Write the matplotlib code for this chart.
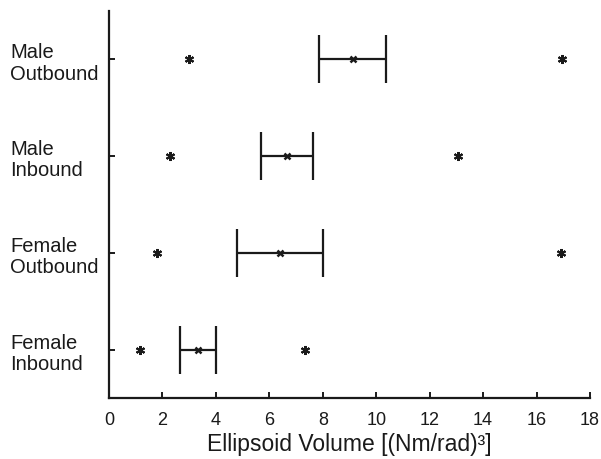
import numpy as np
import matplotlib
matplotlib.use("Agg")
import matplotlib.pyplot as plt

plt.rcParams['font.family'] = ['Liberation Sans', 'DejaVu Sans']

# groups from bottom to top
groups = ["Female\nInbound", "Female\nOutbound", "Male\nInbound", "Male\nOutbound"]
low = [2.66, 4.80, 5.69, 7.86]
mean = [3.33, 6.40, 6.66, 9.13]
high = [4.00, 8.00, 7.63, 10.37]
minimum = [1.16, 1.80, 2.28, 3.00]
maximum = [7.33, 16.90, 13.06, 16.95]
xticks = [0, 2, 4, 6, 8, 10, 12, 14, 16, 18]

fig = plt.figure(figsize=(6.01, 4.6), dpi=100)
ax = fig.add_axes([0.1814, 0.1326, 0.8003, 0.8413])

y = np.arange(1, len(groups) + 1)
mean = np.array(mean)
err = [mean - np.array(low), np.array(high) - mean]

ax.errorbar(mean, y, xerr=err, fmt='none', ecolor='#1a1a1a', elinewidth=1.6,
            capsize=17, capthick=1.6)
ax.plot(mean, y, linestyle='none', marker='x', markersize=4.5,
        markeredgewidth=1.8, color='#1a1a1a')
ax.plot(minimum, y, linestyle='none', marker=(6, 2, 0), markersize=6.5,
        markeredgewidth=1.5, color='#1a1a1a')
ax.plot(maximum, y, linestyle='none', marker=(6, 2, 0), markersize=6.5,
        markeredgewidth=1.5, color='#1a1a1a')

ax.set_xlim(0, 18)
ax.set_ylim(0.5, 4.5)
ax.set_xticks(xticks)
ax.set_yticks(y)
ax.set_yticklabels(groups, ha='left', fontsize=14.5, linespacing=1.15,
                   color='#1a1a1a')

for s in ['top', 'right']:
    ax.spines[s].set_visible(False)
for s in ['left', 'bottom']:
    ax.spines[s].set_linewidth(1.6)
    ax.spines[s].set_color('#1a1a1a')

ax.tick_params(axis='x', direction='in', length=4, width=1.4, labelsize=13, pad=9,
               color='#1a1a1a', labelcolor='#1a1a1a')
ax.tick_params(axis='y', direction='in', length=4, width=1.4, pad=71,
               color='#1a1a1a')

ax.set_xlabel('Ellipsoid Volume [(Nm/rad)\u00b3]', fontsize=16.5, labelpad=3,
              color='#1a1a1a')

plt.savefig('out.png', dpi=100)
